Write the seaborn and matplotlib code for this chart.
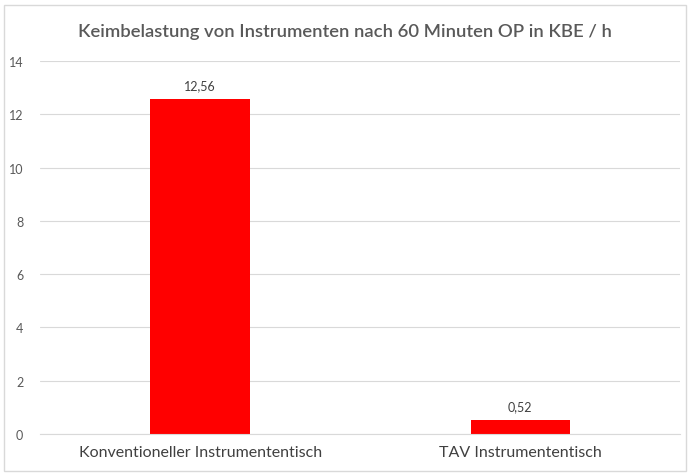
import matplotlib
matplotlib.use("Agg")
import matplotlib.pyplot as plt
import seaborn as sns
import pandas as pd
from matplotlib.patches import Rectangle

categories = ["Konventioneller Instrumententisch", "TAV Instrumententisch"]
values = [12.56, 0.52]
value_labels = ["12,56", "0,52"]
yticks = [0, 2, 4, 6, 8, 10, 12, 14]
title = "Keimbelastung von Instrumenten nach 60 Minuten OP in KBE / h"

sns.set_theme(style="white")
plt.rcParams['font.family'] = ['Lato', 'DejaVu Sans']

df = pd.DataFrame({"cat": categories, "val": values})

fig = plt.figure(figsize=(6.9, 4.77), dpi=100)
ax = fig.add_axes([0.058, 0.088, 0.928, 0.782])
sns.barplot(data=df, x="cat", y="val", color="#ff0000", saturation=1, width=0.31,
            linewidth=0, edgecolor="none", ax=ax)

ax.set_ylim(0, 14)
ax.set_yticks(yticks)
ax.set_yticklabels([str(t) for t in yticks], color="#595959", fontsize=9)
ax.set_xticklabels(categories, color="#404040", fontsize=11.5)
ax.tick_params(axis="both", length=0)
ax.tick_params(axis="x", pad=8)
ax.tick_params(axis="y", pad=12)
ax.set_xlabel("")
ax.set_ylabel("")
ax.grid(axis="y", color="#d9d9d9", linewidth=0.8)
ax.set_axisbelow(True)
for s in ["top", "right", "left"]:
    ax.spines[s].set_visible(False)
ax.spines["bottom"].set_color("#d9d9d9")
ax.spines["bottom"].set_linewidth(0.8)

for p, lab in zip(ax.patches, value_labels):
    ax.annotate(lab, (p.get_x() + p.get_width() / 2, p.get_height()),
                xytext=(0, 6), textcoords="offset points", ha="center", va="bottom",
                fontsize=9, color="#404040")

fig.text(0.5, 0.933, title, ha="center", va="center", fontsize=13.3, color="#595959", fontweight="semibold")
fig.patches.append(Rectangle((0.006, 0.01), 0.988, 0.978, transform=fig.transFigure,
                             fill=False, edgecolor="#d9d9d9", linewidth=1))

fig.savefig("out.png", dpi=100)
